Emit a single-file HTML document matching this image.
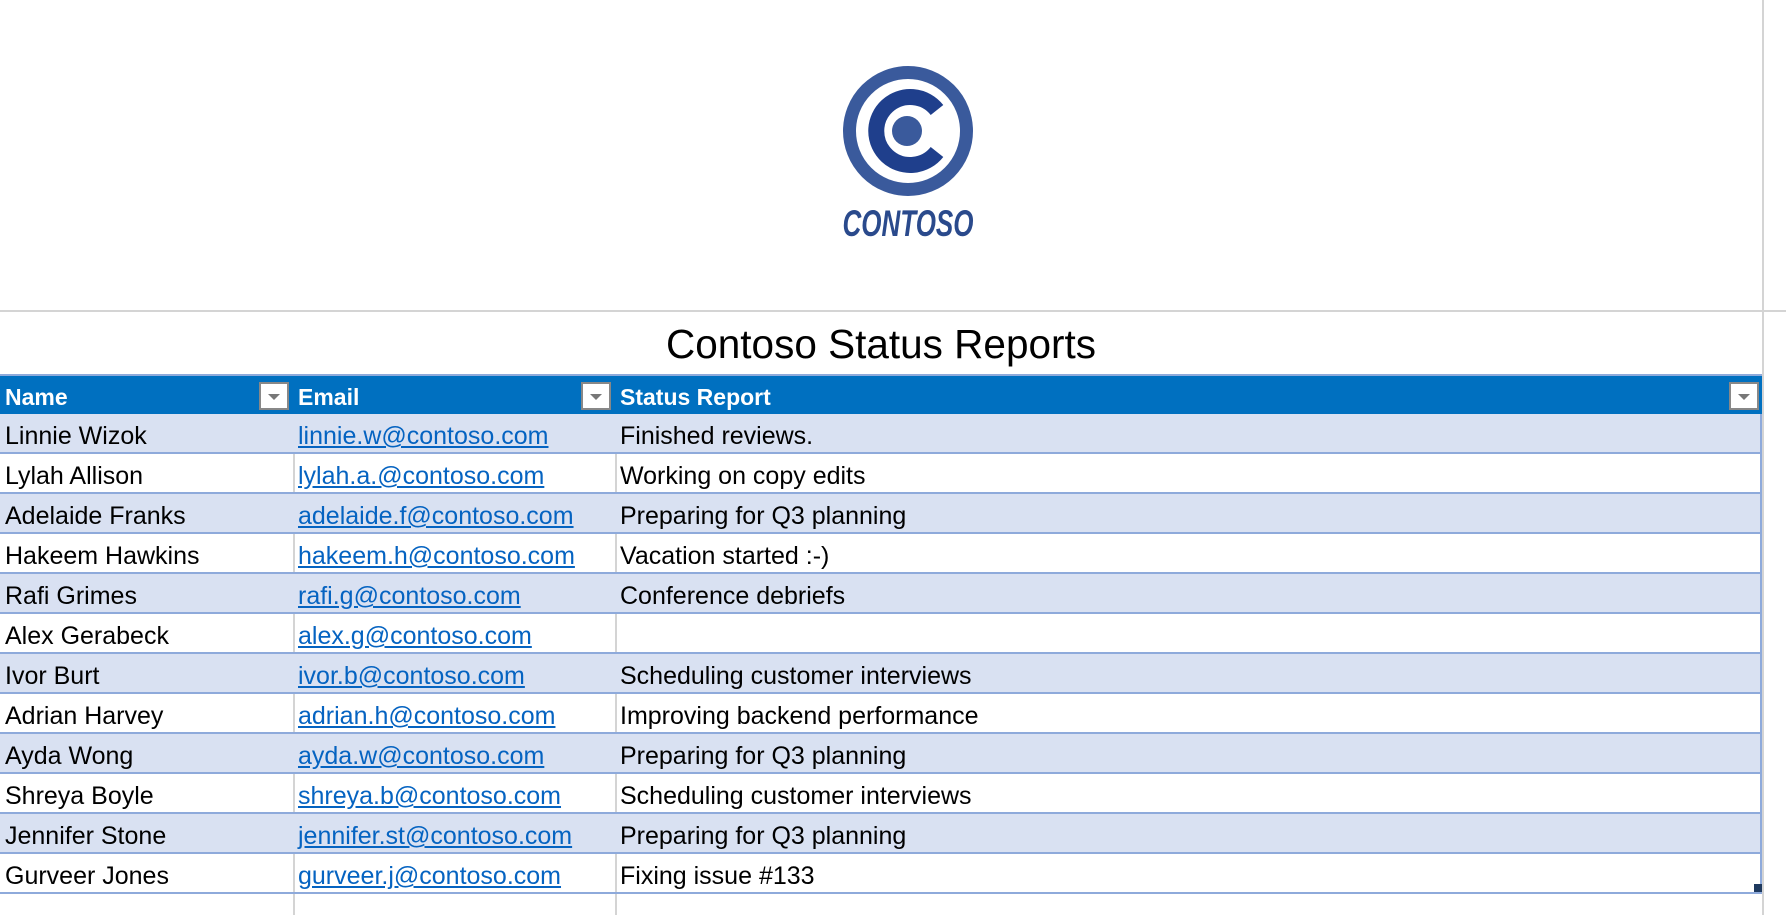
<!DOCTYPE html>
<html><head><meta charset="utf-8"><style>
body{margin:0;width:1786px;height:915px;background:#fff;position:relative;overflow:hidden;font-family:"Liberation Sans",sans-serif}
.a{position:absolute}
.row{position:absolute;left:0;width:1762px;height:40px;border-bottom:2px solid #8eaadb;box-sizing:border-box}
.c{position:absolute;top:0;height:38px;line-height:44px;font-size:25px;color:#000;white-space:nowrap;padding-left:5px;box-sizing:border-box}
.s{background:#d9e1f2}
.w .c2,.w .c3{border-left:2px solid #d4d4d4;padding-left:3px}
a{color:#0563c1;text-decoration:underline}
.hd .c{color:#fff;font-weight:bold;line-height:42px;height:40px;font-size:23px}
.dd{position:absolute;top:6px;width:30px;height:28px;background:#fff;border:2px solid #888;box-sizing:border-box}
.dd:after{content:"";position:absolute;left:7px;top:10px;border-left:6px solid transparent;border-right:6px solid transparent;border-top:6px solid #777}
</style></head><body>
<div class="a" style="left:0;top:310px;width:1786px;height:2px;background:#d4d4d4"></div>
<div class="a" style="left:1762px;top:0;width:2px;height:915px;background:#d4d4d4"></div>
<svg class="a" style="left:830px;top:52px" width="160" height="195" viewBox="830 52 160 195">
<circle cx="908" cy="131" r="58.5" fill="none" stroke="#3a5a9c" stroke-width="13"/>
<path d="M937 110 A34 34 0 1 0 937 152" fill="none" stroke="#1f3f8c" stroke-width="16"/>
<circle cx="907" cy="131" r="15" fill="#3a5a9c"/>
<text x="908" y="236" text-anchor="middle" font-family="Liberation Sans" font-weight="bold" font-style="italic" font-size="37" fill="#2a4a8c" textLength="131" lengthAdjust="spacingAndGlyphs">CONTOSO</text>
</svg>
<div class="a" style="left:0;width:1762px;top:320px;text-align:center;font-size:40.5px;line-height:48px">Contoso Status Reports</div>
<div class="row hd" style="top:374px;background:#0070c0;border:none;height:40px;border-top:2px solid #8eaadb">
<div class="c" style="left:0">Name</div><div class="dd" style="left:259px"></div>
<div class="c" style="left:293px">Email</div><div class="dd" style="left:581px"></div>
<div class="c" style="left:615px">Status Report</div><div class="dd" style="left:1729px"></div>
</div>
<div class="row s" style="top:414px"><div class="c">Linnie Wizok</div><div class="c c2" style="left:293px"><a>linnie.w@contoso.com</a></div><div class="c c3" style="left:615px">Finished reviews.</div></div>
<div class="row w" style="top:454px"><div class="c">Lylah Allison</div><div class="c c2" style="left:293px"><a>lylah.a.@contoso.com</a></div><div class="c c3" style="left:615px">Working on copy edits</div></div>
<div class="row s" style="top:494px"><div class="c">Adelaide Franks</div><div class="c c2" style="left:293px"><a>adelaide.f@contoso.com</a></div><div class="c c3" style="left:615px">Preparing for Q3 planning</div></div>
<div class="row w" style="top:534px"><div class="c">Hakeem Hawkins</div><div class="c c2" style="left:293px"><a>hakeem.h@contoso.com</a></div><div class="c c3" style="left:615px">Vacation started :-)</div></div>
<div class="row s" style="top:574px"><div class="c">Rafi Grimes</div><div class="c c2" style="left:293px"><a>rafi.g@contoso.com</a></div><div class="c c3" style="left:615px">Conference debriefs</div></div>
<div class="row w" style="top:614px"><div class="c">Alex Gerabeck</div><div class="c c2" style="left:293px"><a>alex.g@contoso.com</a></div><div class="c c3" style="left:615px"></div></div>
<div class="row s" style="top:654px"><div class="c">Ivor Burt</div><div class="c c2" style="left:293px"><a>ivor.b@contoso.com</a></div><div class="c c3" style="left:615px">Scheduling customer interviews</div></div>
<div class="row w" style="top:694px"><div class="c">Adrian Harvey</div><div class="c c2" style="left:293px"><a>adrian.h@contoso.com</a></div><div class="c c3" style="left:615px">Improving backend performance</div></div>
<div class="row s" style="top:734px"><div class="c">Ayda Wong</div><div class="c c2" style="left:293px"><a>ayda.w@contoso.com</a></div><div class="c c3" style="left:615px">Preparing for Q3 planning</div></div>
<div class="row w" style="top:774px"><div class="c">Shreya Boyle</div><div class="c c2" style="left:293px"><a>shreya.b@contoso.com</a></div><div class="c c3" style="left:615px">Scheduling customer interviews</div></div>
<div class="row s" style="top:814px"><div class="c">Jennifer Stone</div><div class="c c2" style="left:293px"><a>jennifer.st@contoso.com</a></div><div class="c c3" style="left:615px">Preparing for Q3 planning</div></div>
<div class="row w" style="top:854px"><div class="c">Gurveer Jones</div><div class="c c2" style="left:293px"><a>gurveer.j@contoso.com</a></div><div class="c c3" style="left:615px">Fixing issue #133</div></div>
<div class="a" style="left:1760px;top:414px;width:2px;height:480px;background:#8eaadb"></div>
<div class="a" style="left:1754px;top:884px;width:8px;height:8px;background:#1f3a5f"></div>
<div class="a" style="left:293px;top:894px;width:2px;height:21px;background:#d4d4d4"></div>
<div class="a" style="left:615px;top:894px;width:2px;height:21px;background:#d4d4d4"></div>
</body></html>
